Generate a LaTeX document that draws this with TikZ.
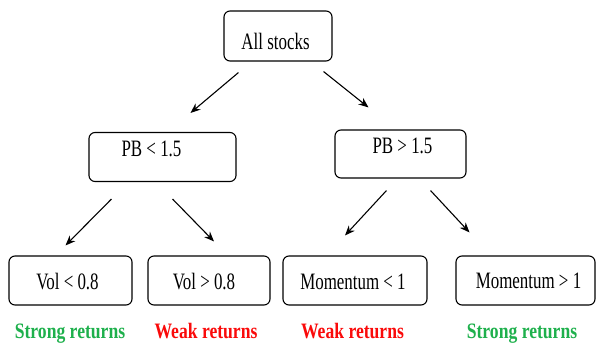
\documentclass[tikz,border=0pt]{standalone}
\usepackage{fontspec}
\setmainfont[FakeStretch=0.72]{Liberation Serif}
\newfontfamily\labfont[FakeStretch=0.8]{Liberation Serif}
\usetikzlibrary{arrows.meta,calc}
\definecolor{goodgreen}{RGB}{30,176,76}
\definecolor{badred}{RGB}{250,10,10}
\newcommand{\bxt}[3]{\makebox[0pt]{\hspace*{#1}\hspace*{#1}\raisebox{#2}[0pt][0pt]{#3}}}
\tikzset{
  box/.style={draw, line width=1.1pt, rounded corners=6pt, inner sep=0pt, font=\fontsize{23.5}{25}\selectfont},
  arr/.style={line width=1.1pt, -{Stealth[length=10pt,width=8pt]}},
  good/.style={text=goodgreen, anchor=base, font=\labfont\fontsize{22}{24}\selectfont\bfseries},
  bad/.style={text=badred, anchor=base, font=\labfont\fontsize{22}{24}\selectfont\bfseries}
}
\begin{document}
\begin{tikzpicture}[x=1pt,y=-1pt]
\useasboundingbox (0,0) rectangle (596,344);
\node[box, minimum width=108pt, minimum height=50pt] (all) at (278,36) {\bxt{-2.5pt}{-14pt}{All stocks}};
\node[box, minimum width=147pt, minimum height=49pt] (pbl) at (162.5,157) {\bxt{-11pt}{0pt}{PB < 1.5}};
\node[box, minimum width=131pt, minimum height=48pt] (pbh) at (400.5,154) {\bxt{2pt}{0pt}{PB > 1.5}};
\node[box, minimum width=123pt, minimum height=49pt] (vl) at (70.5,280.5) {\bxt{-3pt}{-8.5pt}{Vol < 0.8}};
\node[box, minimum width=122pt, minimum height=49pt] (vh) at (209,280.5) {\bxt{-5pt}{-8.5pt}{Vol > 0.8}};
\node[box, minimum width=144pt, minimum height=49pt] (ml) at (355,280.5) {\bxt{-2pt}{-9pt}{Momentum < 1}};
\node[box, minimum width=139pt, minimum height=49pt] (mh) at (525.5,280.5) {\bxt{3pt}{-7.5pt}{Momentum > 1}};
\node[good] (r1) at (70,338) {Strong returns};
\node[bad] (r2) at (206,338) {Weak returns};
\node[bad] (r3) at (352.5,338) {Weak returns};
\node[good] (r4) at (522,338) {Strong returns};
% arrows
\draw[arr] ([xshift=15pt,yshift=-11pt]all.south west) -- ([xshift=28pt,yshift=19pt]pbl.north);
\draw[arr] ([xshift=-9pt,yshift=-10pt]all.south east) -- ([xshift=-32pt,yshift=22pt]pbh.north);
\draw[arr] ([xshift=23pt,yshift=-17pt]pbl.south west) -- ([xshift=-5pt,yshift=10pt]vl.north);
\draw[arr] ([xshift=-64pt,yshift=-17pt]pbl.south east) -- ([xshift=5pt,yshift=14pt]vh.north);
\draw[arr] ([xshift=52pt,yshift=-12pt]pbh.south west) -- ([xshift=-10pt,yshift=20pt]ml.north);
\draw[arr] ([xshift=-36pt,yshift=-12pt]pbh.south east) -- ([xshift=-56pt,yshift=23pt]mh.north);
\end{tikzpicture}
\end{document}
